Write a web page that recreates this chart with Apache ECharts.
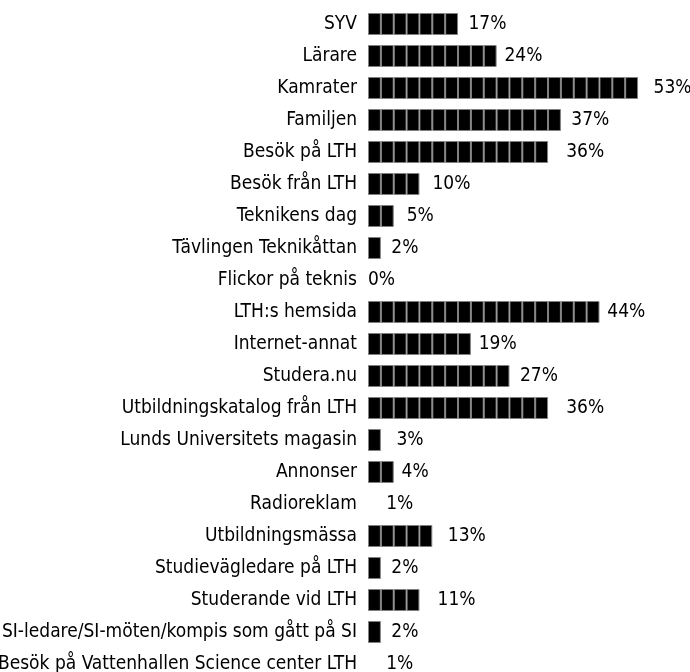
<!DOCTYPE html>
<html>
<head>
<meta charset="utf-8">
<script src="https://cdn.jsdelivr.net/npm/echarts@6/dist/echarts.min.js"></script>
<style>
  html, body { margin: 0; padding: 0; background: #fff; }
  #main { width: 690px; height: 672px; }
</style>
</head>
<body>
<div id="main"></div>
<script>
// kategorier uppifrån och ned
var categories = [
  'SYV', 'Lärare', 'Kamrater', 'Familjen', 'Besök på LTH', 'Besök från LTH',
  'Teknikens dag', 'Tävlingen Teknikåttan', 'Flickor på teknis', 'LTH:s hemsida',
  'Internet-annat', 'Studera.nu', 'Utbildningskatalog från LTH',
  'Lunds Universitets magasin', 'Annonser', 'Radioreklam', 'Utbildningsmässa',
  'Studievägledare på LTH', 'Studerande vid LTH',
  'SI-ledare/SI-möten/kompis som gått på SI',
  'Besök på Vattenhallen Science center LTH'
]
// andel i procent
var percents = [17, 24, 53, 37, 36, 10, 5, 2, 0, 44, 19, 27, 36, 3, 4, 1, 13, 2, 11, 2, 1]
// varje ruta = 2,5 procentenheter
var cellUnit = 2.5

var font = '"Liberation Sans Narrow", "DejaVu Sans Condensed", sans-serif'

// antal hela rutor per rad
var cellCounts = percents.map(function(v) {
  return Math.round(v / cellUnit)
})
var maxCells = Math.max.apply(null, cellCounts)

var series = []
// en staplad serie per ruta, svart med grå kant
for (var k = 0; k < maxCells; k++) {
  series.push({
    type: 'bar',
    stack: 'rutor',
    data: cellCounts.map(function(n) { return k < n ? cellUnit : '-' }),
    barWidth: 22,
    barGap: '-100%',
    itemStyle: { color: '#000', borderColor: '#808080', borderWidth: 1 },
    emphasis: { disabled: true },
    z: 2
  })
}
// osynlig stapel med verkligt värde, bär etiketten
series.push({
  type: 'bar',
  data: percents.map(function(v) {
    return { value: v, label: { distance: v === 0 ? 0 : 13 } }
  }),
  barWidth: 22,
  barGap: '-100%',
  itemStyle: { color: 'rgba(0,0,0,0)' },
  label: {
    show: true,
    position: 'right',
    color: '#000',
    fontFamily: font,
    fontSize: 19,
    formatter: '{c}%'
  },
  emphasis: { disabled: true },
  z: 3
})

var myChart = echarts.init(document.getElementById('main'))
var option = {
  animation: false,
  grid: {
    left: 368,
    top: 8,
    width: 322,
    height: 672,
    containLabel: false,
    outerBoundsMode: 'none'
  },
  xAxis: {
    type: 'value',
    min: 0,
    max: 62.6,
    show: false
  },
  yAxis: {
    type: 'category',
    inverse: true,
    data: categories,
    axisLine: { show: false },
    axisTick: { show: false },
    axisLabel: {
      margin: 11,
      color: '#000',
      fontFamily: font,
      fontSize: 19
    }
  },
  series: series
}
myChart.setOption(option)
</script>
</body>
</html>
